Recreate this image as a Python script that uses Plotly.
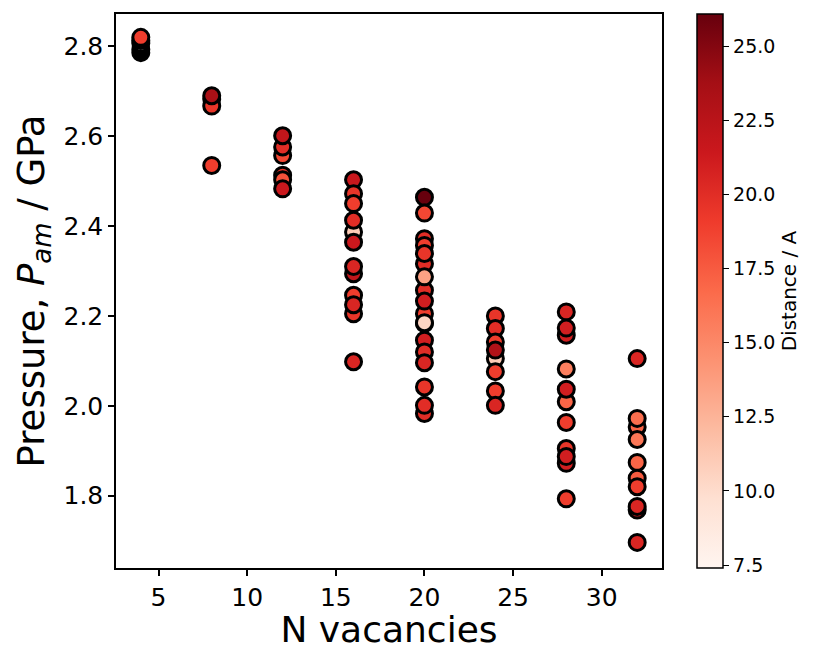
import plotly.graph_objects as go
from plotly.colors import sample_colorscale

# Pressure vs. number of vacancies, coloured by vacancy distance (Å).
# None = no distance recorded for that configuration.
n_vacancies = [
    4, 4, 4, 4, 4,
    8, 8, 8, 8,
    12, 12, 12, 12, 12, 12,
    16, 16, 16, 16, 16, 16, 16, 16, 16, 16, 16, 16,
    20, 20, 20, 20, 20, 20, 20, 20, 20, 20, 20, 20, 20, 20, 20, 20, 20, 20,
    24, 24, 24, 24, 24, 24, 24, 24,
    28, 28, 28, 28, 28, 28, 28, 28, 28, 28, 28,
    32, 32, 32, 32, 32, 32, 32, 32, 32, 32,
]
pressure = [
    2.786, 2.793, 2.807, 2.813, 2.820,
    2.683, 2.667, 2.690, 2.535,
    2.557, 2.576, 2.601, 2.513, 2.503, 2.483,
    2.503, 2.472, 2.387, 2.450, 2.413, 2.364, 2.294, 2.310, 2.246, 2.205, 2.225, 2.098,
    2.464, 2.429, 2.372, 2.357, 2.316, 2.339, 2.257, 2.287, 2.205, 2.183, 2.233, 2.146,
    2.120, 2.096, 2.042, 1.983, 2.001, 2.185,
    2.200, 2.172, 2.142, 2.105, 2.124, 2.076, 2.033, 2.001,
    2.209, 2.157, 2.173, 2.082, 2.009, 2.037, 1.963, 1.905, 1.872, 1.887, 1.793,
    2.105, 1.953, 1.972, 1.925, 1.874, 1.839, 1.820, 1.768, 1.776, 1.696,
]
distance = [
    None, None, 7.4, None, 19.0,
    21.0, 19.5, 23.5, 19.0,
    18.5, 20.0, 22.0, 19.5, 18.0, 21.5,
    21.5, 19.5, 11.0, 19.0, 20.0, 21.5, 22.0, 20.5, 19.0, 19.5, 20.5, 20.5,
    26.08, 18.5, 20.0, 19.0, 20.0, 19.5, 20.0, 13.5, 19.0, 11.0, 21.0, 21.0,
    20.0, 20.5, 19.5, 20.0, 20.0, 10.5,
    19.5, 20.0, 19.0, 11.0, 23.0, 19.0, 19.0, 20.5,
    20.5, 21.0, 21.0, 15.5, 17.0, 21.0, 19.0, 19.5, 21.0, 21.0, 19.0,
    20.5, 17.0, 16.5, 16.0, 17.0, 17.5, 19.0, 21.0, 20.5, 20.5,
]

d_min, d_max = 7.4, 26.08
colorbar_ticks = [7.5, 10.0, 12.5, 15.0, 17.5, 20.0, 22.5, 25.0]
x_ticks = [5, 10, 15, 20, 25, 30]
y_ticks = [1.8, 2.0, 2.2, 2.4, 2.6, 2.8]

FONT = "DejaVu Sans"

# Map each distance through the Reds scale; missing distances render black.
fill = []
for d in distance:
    if d is None:
        fill.append("black")
    else:
        t = min(max((d - d_min) / (d_max - d_min), 0.0), 1.0)
        fill.append(sample_colorscale("Reds", [t])[0])

fig = go.Figure()

fig.add_trace(go.Scatter(
    x=n_vacancies, y=pressure, mode="markers",
    marker=dict(size=16, color=fill, line=dict(color="black", width=3)),
    showlegend=False, hoverinfo="x+y",
))

# Colour bar for the distance scale
fig.add_trace(go.Scatter(
    x=[None], y=[None], mode="markers", showlegend=False,
    marker=dict(
        color=[d_min], colorscale="Reds", cmin=d_min, cmax=d_max, showscale=True,
        colorbar=dict(
            x=1.064, xanchor="left", xpad=0, y=0.5, yanchor="middle", ypad=0,
            len=1, lenmode="fraction", thickness=26,
            outlinewidth=1.5, outlinecolor="black",
            tickvals=colorbar_ticks, tickformat=".1f",
            ticks="outside", ticklen=6, tickwidth=1.2, tickcolor="black",
            tickfont=dict(family=FONT, size=19, color="black"),
            title=dict(text="Distance / A", side="right",
                       font=dict(family=FONT, size=20, color="black")),
        ),
    ),
))

axis_common = dict(
    showline=True, linecolor="black", linewidth=1.5, mirror=True,
    ticks="outside", ticklen=6, tickwidth=1.5, tickcolor="black",
    showgrid=False, zeroline=False,
    tickfont=dict(family=FONT, size=25, color="black"),
)

fig.update_xaxes(
    range=[2.6, 33.4], tickvals=x_ticks,
    title=dict(text="N vacancies", font=dict(family=FONT, size=36, color="black"), standoff=6),
    **axis_common,
)
fig.update_yaxes(
    range=[1.639, 2.872], tickvals=y_ticks, tickformat=".1f",
    title=dict(text="Pressure, <i>P</i><sub><i>am</i></sub> / GPa",
               font=dict(family=FONT, size=37, color="black"), standoff=8),
    **axis_common,
)

fig.update_layout(
    width=813, height=650,
    margin=dict(l=116, r=151, t=14, b=82, autoexpand=False),
    paper_bgcolor="white", plot_bgcolor="white",
)

fig.write_html("out.html")
